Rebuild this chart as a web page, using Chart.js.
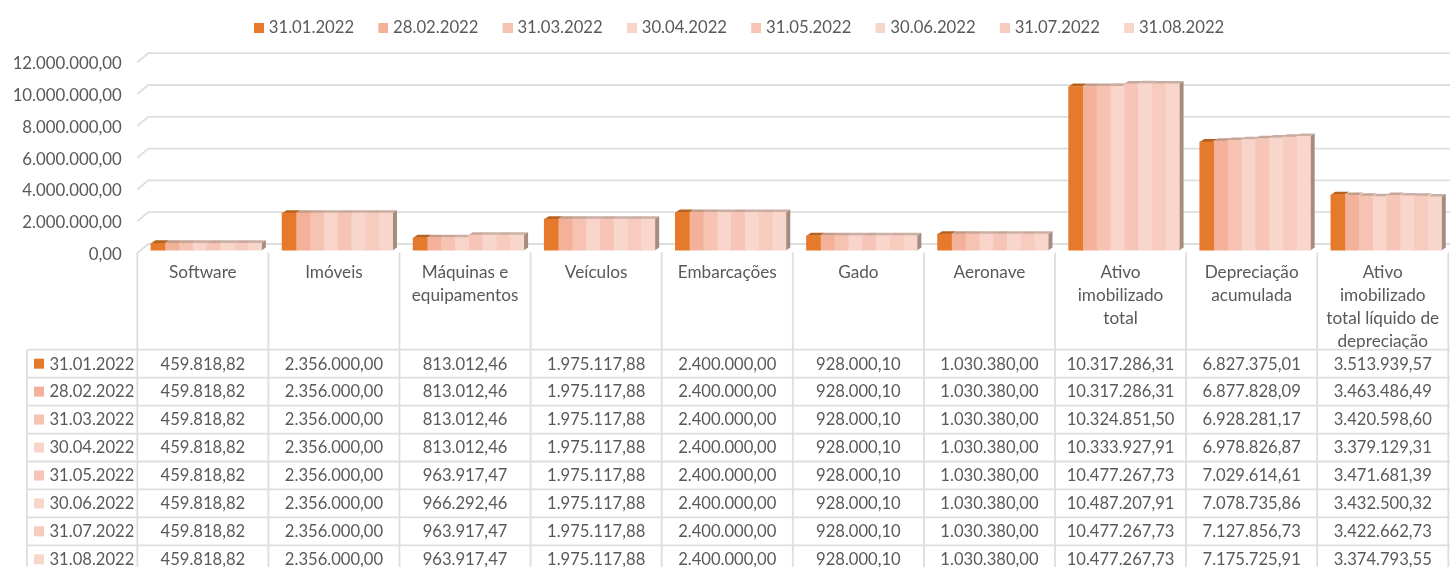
<!DOCTYPE html>
<html>
<head>
<meta charset="utf-8">
<title>Ativo imobilizado</title>
<script src="https://cdn.jsdelivr.net/npm/chart.js@4"></script>
<style>
  html, body { margin: 0; padding: 0; background: #fff; overflow: hidden; }
  canvas { display: block; }
</style>
</head>
<body>
<canvas id="grafico" width="1452" height="567"></canvas>
<script>
const categorias = [
  'Software', 'Imóveis', ['Máquinas e', 'equipamentos'], 'Veículos', 'Embarcações', 'Gado', 'Aeronave',
  ['Ativo', 'imobilizado', 'total'], ['Depreciação', 'acumulada'],
  ['Ativo', 'imobilizado', 'total líquido de', 'depreciação']
];
const datas = ['31.01.2022', '28.02.2022', '31.03.2022', '30.04.2022', '31.05.2022', '30.06.2022', '31.07.2022', '31.08.2022'];

const jan = [459818.82, 2356000.00, 813012.46, 1975117.88, 2400000.00, 928000.10, 1030380.00, 10317286.31, 6827375.01, 3513939.57];
const fev = [459818.82, 2356000.00, 813012.46, 1975117.88, 2400000.00, 928000.10, 1030380.00, 10317286.31, 6877828.09, 3463486.49];
const mar = [459818.82, 2356000.00, 813012.46, 1975117.88, 2400000.00, 928000.10, 1030380.00, 10324851.50, 6928281.17, 3420598.60];
const abr = [459818.82, 2356000.00, 813012.46, 1975117.88, 2400000.00, 928000.10, 1030380.00, 10333927.91, 6978826.87, 3379129.31];
const mai = [459818.82, 2356000.00, 963917.47, 1975117.88, 2400000.00, 928000.10, 1030380.00, 10477267.73, 7029614.61, 3471681.39];
const jun = [459818.82, 2356000.00, 966292.46, 1975117.88, 2400000.00, 928000.10, 1030380.00, 10487207.91, 7078735.86, 3432500.32];
const jul = [459818.82, 2356000.00, 963917.47, 1975117.88, 2400000.00, 928000.10, 1030380.00, 10477267.73, 7127856.73, 3422662.73];
const ago = [459818.82, 2356000.00, 963917.47, 1975117.88, 2400000.00, 928000.10, 1030380.00, 10477267.73, 7175725.91, 3374793.55];
const valores = [jan, fev, mar, abr, mai, jun, jul, ago];

const cores = ['#E57A2D', '#F4B199', '#F6C2B1', '#F9D4CA', '#F6C5B8', '#F9D6CC', '#F7CBBE', '#F9D6CC'];
const coresTopo = ['#B5621F', '#C49A89', '#C7A597', '#CBADA2', '#C7A79B', '#CBAFA4', '#C8AA9E', '#CBAFA4'];
const corLado = '#A68C80';
const corGrade = '#DEDEDE';
const corTexto = '#595959';
const fonte = 'Lato, Carlito, sans-serif';
const tamFonte = 16.6;

const fmt = v => v.toLocaleString('pt-BR', { minimumFractionDigits: 2, maximumFractionDigits: 2 });

// deslocamento das barras em relacao as celulas da tabela (efeito 3D)
const desvioX = 3.4;
const fundoX = 11, fundoY = 6.6, frenteY = 2.5;
const profX = 4.4, profY = 3;
const topoTabela = 349.7, alturaLinha = 27.95, esqTabela = 27;

// marcador da legenda mais perto do texto: quadrado deslocado dentro de um canvas maior
function marcador(cor) {
  const c = document.createElement('canvas');
  c.width = 17;
  c.height = 10;
  const g = c.getContext('2d');
  g.fillStyle = cor;
  g.fillRect(7, 0, 10, 10);
  return c;
}
const marcadores = cores.map(marcador);

const grade3d = {
  id: 'grade3d',
  beforeInit(chart) {
    const fit = chart.legend.fit;
    chart.legend.fit = function () {
      fit.call(this);
      this.height = 59.8;
    };
  },
  afterLayout(chart) {
    // a legenda do original nao fica centrada na janela
    chart.legend.left += 11.5;
    chart.legend.right += 11.5;
    chart.legend.top -= 1;
    chart.legend.bottom -= 1;
  },
  beforeDatasetsDraw(chart) {
    const ctx = chart.ctx, y = chart.scales.y, area = chart.chartArea;
    const esq = area.left - desvioX;
    ctx.save();
    // linhas de grade: parede do fundo e diagonal lateral
    ctx.strokeStyle = corGrade;
    ctx.lineWidth = 1.8;
    y.ticks.forEach(t => {
      const p = y.getPixelForValue(t.value);
      ctx.beginPath();
      ctx.moveTo(esq, p + frenteY);
      ctx.lineTo(esq + fundoX, p - fundoY);
      ctx.lineTo(1452, p - fundoY);
      ctx.stroke();
    });
    // topo e lateral das barras
    valores.forEach((serie, s) => {
      chart.getDatasetMeta(s).data.forEach(bar => {
        const x0 = bar.x - bar.width / 2, x1 = bar.x + bar.width / 2;
        ctx.fillStyle = coresTopo[s];
        ctx.beginPath();
        ctx.moveTo(x0, bar.y);
        ctx.lineTo(x0 + profX, bar.y - profY);
        ctx.lineTo(x1 + profX, bar.y - profY);
        ctx.lineTo(x1, bar.y);
        ctx.closePath();
        ctx.fill();
        if (s === valores.length - 1) {
          ctx.fillStyle = corLado;
          ctx.beginPath();
          ctx.moveTo(x1, bar.y);
          ctx.lineTo(x1 + profX, bar.y - profY);
          ctx.lineTo(x1 + profX, bar.base - profY);
          ctx.lineTo(x1, bar.base);
          ctx.closePath();
          ctx.fill();
        }
      });
    });
    ctx.restore();
  },
  afterDraw(chart) {
    const ctx = chart.ctx, x = chart.scales.x;
    const passo = x.width / categorias.length;
    const esq = chart.chartArea.left - desvioX;
    ctx.save();
    ctx.strokeStyle = corGrade;
    ctx.lineWidth = 1.8;
    for (let i = 0; i <= categorias.length; i++) {
      ctx.beginPath();
      ctx.moveTo(esq + i * passo, 252.5);
      ctx.lineTo(esq + i * passo, 567);
      ctx.stroke();
    }
    ctx.beginPath();
    ctx.moveTo(esqTabela, topoTabela);
    ctx.lineTo(esqTabela, 567);
    ctx.stroke();
    ctx.font = tamFonte + 'px ' + fonte;
    ctx.textBaseline = 'middle';
    datas.forEach((d, s) => {
      const yLinha = topoTabela + s * alturaLinha;
      ctx.strokeStyle = corGrade;
      ctx.beginPath();
      ctx.moveTo(esqTabela, yLinha);
      ctx.lineTo(1452, yLinha);
      ctx.stroke();
      const meio = yLinha + alturaLinha / 2;
      ctx.fillStyle = cores[s];
      ctx.fillRect(34, meio - 5, 10, 10);
      ctx.fillStyle = corTexto;
      ctx.textAlign = 'left';
      ctx.fillText(d, 49.5, meio + 0.5);
      ctx.textAlign = 'center';
      valores[s].forEach((v, c) => {
        ctx.fillText(fmt(v), esq + (c + 0.5) * passo, meio + 0.5);
      });
    });
    ctx.restore();
  }
};

new Chart(document.getElementById('grafico'), {
  type: 'bar',
  data: {
    labels: categorias,
    datasets: datas.map((d, s) => ({
      label: d,
      data: valores[s],
      backgroundColor: cores[s],
      borderWidth: 0,
      inflateAmount: 0.4,
      categoryPercentage: 0.8425,
      barPercentage: 1
    }))
  },
  plugins: [grade3d],
  options: {
    responsive: false,
    animation: false,
    layout: { padding: { right: 0.3 } },
    plugins: {
      tooltip: { enabled: false },
      legend: {
        position: 'top',
        align: 'center',
        labels: {
          boxWidth: 10,
          boxHeight: 10,
          usePointStyle: true,
          pointStyleWidth: 10,
          padding: 20.65,
          color: corTexto,
          font: { family: fonte, size: 16.7 },
          generateLabels(chart) {
            return Chart.defaults.plugins.legend.labels.generateLabels(chart).map(item => {
              item.pointStyle = marcadores[item.datasetIndex];
              return item;
            });
          }
        }
      }
    },
    scales: {
      x: {
        grid: { display: false },
        border: { display: false },
        afterFit(scale) { scale.height = 316.4; },
        ticks: {
          autoSkip: false,
          maxRotation: 0,
          padding: 2,
          labelOffset: -desvioX,
          color: corTexto,
          font: { family: fonte, size: 17.2, lineHeight: 1.34 }
        }
      },
      y: {
        min: 0,
        max: 12000000,
        grid: { display: false },
        border: { display: false },
        afterFit(scale) { scale.width = 140.7; },
        ticks: {
          stepSize: 2000000,
          padding: 11,
          labelOffset: 4,
          color: corTexto,
          font: { family: fonte, size: 16.8 },
          callback: v => fmt(v)
        }
      }
    }
  }
});
</script>
</body>
</html>
